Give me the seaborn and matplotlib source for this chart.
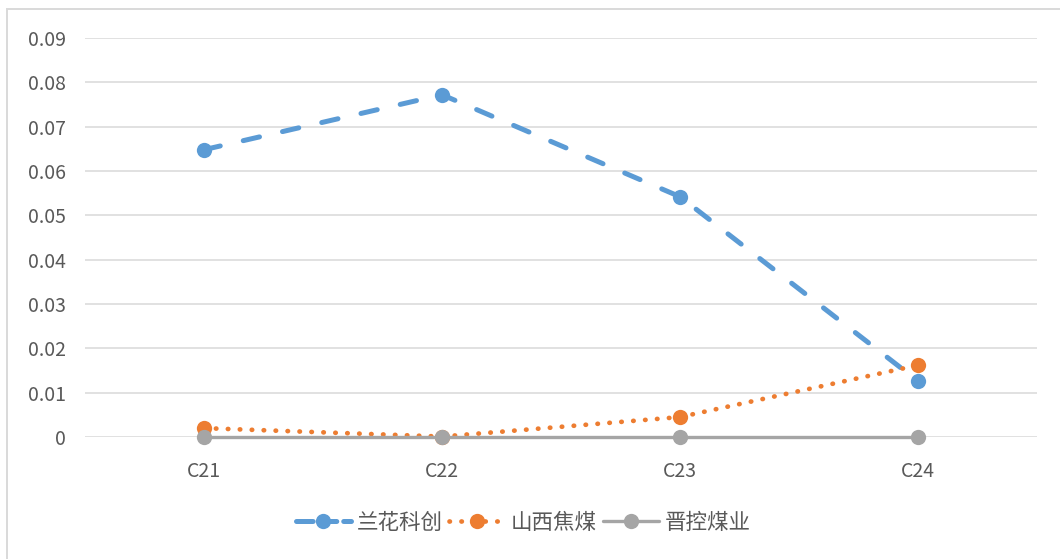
import numpy as np
import pandas as pd
import matplotlib
matplotlib.use("Agg")
import matplotlib.pyplot as plt
from matplotlib.patches import Rectangle
from matplotlib.lines import Line2D
import seaborn as sns

# Data
categories = ["C21", "C22", "C23", "C24"]
lanhua = [0.0648, 0.0772, 0.0542, 0.0126]      # 兰花科创
shanxi = [0.0020, 0.0001, 0.0045, 0.0162]      # 山西焦煤
jinkong = [0.0, 0.0, 0.0, 0.0]                 # 晋控煤业
series_names = ["兰花科创", "山西焦煤", "晋控煤业"]
y_ticks = [0, 0.01, 0.02, 0.03, 0.04, 0.05, 0.06, 0.07, 0.08, 0.09]
y_tick_labels = ["0", "0.01", "0.02", "0.03", "0.04", "0.05", "0.06", "0.07", "0.08", "0.09"]

sns.set_theme(style="white")
plt.rcParams["font.family"] = ["Noto Sans CJK SC", "DejaVu Sans"]
plt.rcParams["lines.scale_dashes"] = False
plt.rcParams["lines.dash_capstyle"] = "round"
plt.rcParams["lines.solid_capstyle"] = "round"

colors = ["#5b9bd5", "#ed7d31", "#a5a5a5"]
text_color = "#595959"
grid_color = "#d9d9d9"
line_widths = [3.6, 3.4, 2.4]
dash_styles = {series_names[0]: (12.0, 17.0),
               series_names[1]: (0.3, 8.3),
               series_names[2]: ""}

df = pd.DataFrame({
    "x": np.tile(np.arange(len(categories)), 3),
    "value": lanhua + shanxi + jinkong,
    "series": np.repeat(series_names, len(categories)),
})

fig = plt.figure(figsize=(10.6, 5.59), dpi=100)
ax = fig.add_axes([85 / 1060, 1 - 437 / 559, (1037 - 85) / 1060, (437 - 38) / 559])

# outer chart frame (left and top edges visible)
fig.patches.append(Rectangle((7 / 1060, -0.1), 1.2, 1 - 8.5 / 559 + 0.1,
                             transform=fig.transFigure, fill=False,
                             edgecolor=grid_color, lw=1.4, zorder=0))

sns.lineplot(data=df, x="x", y="value", hue="series", style="series",
             hue_order=series_names, style_order=series_names,
             palette=colors, dashes=dash_styles,
             markers={n: "o" for n in series_names},
             markersize=11, markeredgewidth=0, legend=False,
             clip_on=False, ax=ax)
for k, line in enumerate(ax.lines):
    line.set_linewidth(line_widths[k])
    line.set_zorder(3 + k)

ax.set_xlim(-0.5, len(categories) - 0.5)
ax.set_ylim(0, 0.09)
ax.set_xticks(range(len(categories)))
ax.set_xticklabels(categories)
ax.set_yticks(y_ticks)
ax.set_yticklabels(y_tick_labels)
ax.set_xlabel("")
ax.set_ylabel("")
ax.grid(axis="y", color=grid_color, lw=1.1)
ax.set_axisbelow(True)
for s in ax.spines.values():
    s.set_visible(False)
ax.tick_params(axis="y", length=0, pad=14, labelsize=14, labelcolor=text_color)
ax.tick_params(axis="x", length=0, pad=17, labelsize=14, labelcolor=text_color)

handles = [
    Line2D([], [], color=colors[0], lw=line_widths[0], ls=(0, (12.0, 5.0)),
           marker="o", markersize=11, markeredgewidth=0),
    Line2D([], [], color=colors[1], lw=line_widths[1], ls=(0, (0.3, 8.3)),
           marker="o", markersize=11, markeredgewidth=0),
    Line2D([], [], color=colors[2], lw=line_widths[2], ls="-",
           marker="o", markersize=11, markeredgewidth=0),
]
fig.legend(handles, series_names, loc="center", ncol=3,
           bbox_to_anchor=(523 / 1060, 1 - 523 / 559), frameon=False,
           fontsize=15.5, handlelength=2.6, handletextpad=0.25,
           columnspacing=0.3, labelcolor=text_color)

fig.savefig("out.png", dpi=100, facecolor="white")
